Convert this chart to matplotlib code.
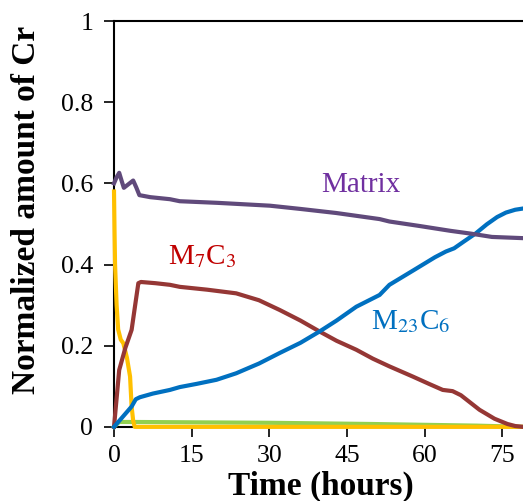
import matplotlib
matplotlib.use("Agg")
import matplotlib.pyplot as plt

plt.rcParams['font.family'] = ['Liberation Serif', 'DejaVu Serif']
plt.rcParams['mathtext.fontset'] = 'stix'

# Cr distribution between phases vs time (hours)
t_matrix = [0, 0.5, 1.0, 1.5, 1.9, 2.8, 3.7, 4.3, 4.9, 7, 10.8, 12.7, 20, 30.1, 36, 42.9, 51.3, 53.2, 59, 65, 69, 73, 79]
matrix = [0.60, 0.615, 0.626, 0.605, 0.589, 0.598, 0.607, 0.59, 0.571, 0.566, 0.561, 0.556, 0.552, 0.545, 0.537, 0.527, 0.512, 0.506, 0.495, 0.483, 0.476, 0.468, 0.465]

t_m23 = [0, 1.5, 3.4, 4.2, 5.0, 7.5, 10.8, 12.7, 16, 19.8, 23.6, 28, 32, 36, 39.7, 43, 46.8, 51.3, 53.2, 58, 62, 64.1, 65.7, 67.5, 69.9, 72, 74, 75.7, 77.5, 79]
m23c6 = [0.0, 0.022, 0.05, 0.068, 0.073, 0.082, 0.091, 0.098, 0.106, 0.116, 0.132, 0.156, 0.182, 0.207, 0.235, 0.262, 0.296, 0.325, 0.350, 0.387, 0.418, 0.432, 0.44, 0.456, 0.477, 0.499, 0.517, 0.528, 0.535, 0.538]

t_m7 = [0, 0.5, 1.0, 2.2, 3.4, 4.2, 4.7, 5.2, 8, 10.8, 12.7, 18, 23.6, 28, 32, 36, 39.7, 43, 46.8, 50, 53.2, 57.7, 61, 63.5, 65.4, 67, 70.6, 73.5, 76, 77.5, 79]
m7c3 = [0.0, 0.07, 0.14, 0.195, 0.239, 0.31, 0.354, 0.357, 0.354, 0.350, 0.345, 0.338, 0.329, 0.312, 0.288, 0.262, 0.235, 0.212, 0.190, 0.168, 0.149, 0.124, 0.105, 0.091, 0.088, 0.078, 0.042, 0.020, 0.007, 0.002, 0.0]

t_yellow = [0, 0.1, 0.2, 0.5, 0.8, 1.3, 1.8, 2.5, 3.1, 3.4, 3.7, 4.0, 79]
yellow = [0.58, 0.48, 0.40, 0.30, 0.24, 0.215, 0.206, 0.17, 0.124, 0.05, 0.015, 0.0, 0.0]

t_green = [0, 1.0, 4.0, 30, 50, 70, 79]
green = [0.0, 0.012, 0.012, 0.01, 0.007, 0.003, 0.0]

fig = plt.figure(figsize=(5.23, 5.01), dpi=100)
ax = fig.add_axes([0.218, 0.148, 0.782, 0.810])

lw = 3.0
ax.plot(t_green, green, color='#92D050', lw=lw, zorder=3, clip_on=False)
ax.plot(t_yellow, yellow, color='#FFC000', lw=lw, zorder=3.5, clip_on=False)
ax.plot(t_m7, m7c3, color='#953735', lw=lw, zorder=4, clip_on=False)
ax.plot(t_m23, m23c6, color='#0070C0', lw=lw, zorder=4.5, clip_on=False)
ax.plot(t_matrix, matrix, color='#604A7B', lw=lw, zorder=5, clip_on=False)

ax.text(47.7, 0.596, 'Matrix', color='#7030A0', fontsize=21, ha='center', va='center')
ax.text(10.4, 0.42, r'M$_7$C$_3$', color='#C00000', fontsize=21, ha='left', va='center')
ax.text(49.7, 0.26, r'M$_{23}$C$_6$', color='#0070C0', fontsize=21, ha='left', va='center')

ax.set_xlim(0, 79)
ax.set_ylim(0, 1)
ax.set_xticks([0, 15, 30, 45, 60, 75])
ax.set_yticks([0, 0.2, 0.4, 0.6, 0.8, 1.0])
ax.set_yticklabels(['0', '0.2', '0.4', '0.6', '0.8', '1'])
ax.tick_params(direction='out', length=7, width=1.2, labelsize=18.5)
ax.tick_params(axis='x', pad=6)
ax.tick_params(axis='y', pad=8)
ax.spines['right'].set_visible(False)
for s in ['left', 'bottom', 'top']:
    ax.spines[s].set_linewidth(1.5)

ax.set_xlabel('Time (hours)', fontsize=24, fontweight='bold')
ax.xaxis.set_label_coords(0.507, -0.108)
ax.set_ylabel('Normalized amount of Cr', fontsize=24, fontweight='bold')
ax.yaxis.set_label_coords(-0.175, 0.534)

fig.savefig('out.png', dpi=100)
